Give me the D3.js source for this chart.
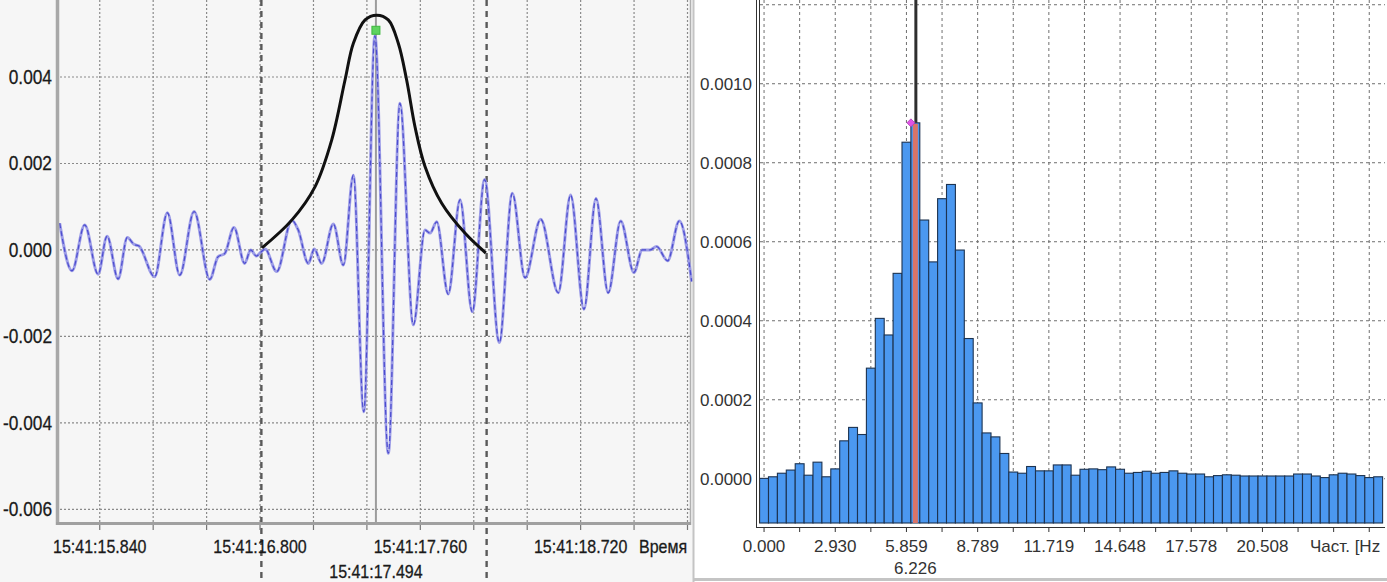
<!DOCTYPE html>
<html><head><meta charset="utf-8">
<script src="https://cdn.jsdelivr.net/npm/d3@7"></script>
<style>
html,body{margin:0;padding:0;background:#fff;}
svg{display:block;font-family:"Liberation Sans",Arial,sans-serif;}
</style></head>
<body>
<script>
// ---------- LEFT PANEL DATA (time in seconds after 15:41:00, amplitude) ----------
const signalTime = [15.600,15.674,15.750,15.830,15.884,15.950,16.005,16.045,16.075,16.169,16.245,16.319,16.405,16.499,16.548,16.589,16.644,16.708,16.744,16.778,16.808,16.830,16.900,16.990,17.029,17.089,17.125,17.169,17.239,17.299,17.359,17.421,17.488,17.568,17.638,17.718,17.788,17.818,17.858,17.927,17.998,18.071,18.145,18.233,18.311,18.387,18.481,18.586,18.660,18.740,18.812,18.885,18.960,19.039,19.089,19.135,19.175,19.241,19.311,19.385];
const signalValue = [0.00062,-0.00048,0.00058,-0.00056,0.00032,-0.00067,0.00029,0.00013,0.00009,-0.00062,0.00086,-0.00058,0.00089,-0.00068,-0.00016,-0.00008,0.00052,-0.00031,0.00000,-0.00014,-0.00004,0.00002,-0.00050,0.00069,0.00046,-0.00031,0.00002,-0.00031,0.00060,-0.00035,0.00173,-0.00374,0.00495,-0.00470,0.00339,-0.00173,0.00046,0.00039,0.00065,-0.00102,0.00116,-0.00143,0.00163,-0.00214,0.00131,-0.00064,0.00071,-0.00099,0.00127,-0.00137,0.00119,-0.00099,0.00067,-0.00052,0.00000,0.00000,0.00008,-0.00025,0.00067,-0.00073];
const envelopeTime = [16.812,16.990,17.129,17.229,17.309,17.359,17.429,17.499,17.568,17.628,17.678,17.728,17.788,17.888,18.027,18.152];
const envelopeValue = [0.00005,0.00069,0.00146,0.00254,0.00393,0.00478,0.00532,0.00543,0.00532,0.00478,0.00393,0.00285,0.00193,0.00108,0.00039,-0.00007];
const timeTickValues = [15.84,16.80,17.76,18.72];
const timeTickLabels = ["15:41:15.840","15:41:16.800","15:41:17.760","15:41:18.720"];
const ampTickValues = [0.004,0.002,0.000,-0.002,-0.004,-0.006];
const ampTickLabels = ["0.004","0.002","0.000","-0.002","-0.004","-0.006"];
const cursorTimes = [16.808,18.157];
const selectedTime = 17.494;
const selectedLabel = "15:41:17.494";
const peakMarkerValue = 0.00508;
const timeAxisTitle = "Время";

// ---------- RIGHT PANEL DATA (spectrum) ----------
const binWidth = 0.366211;
const spectrumValues = [0.000001,0.000005,0.000014,0.000022,0.000038,0.000009,0.000042,0.000005,0.000025,0.000096,
0.000130,0.000112,0.000280,0.000406,0.000364,0.000520,0.000852,0.000901,0.000655,0.000549,
0.000709,0.000745,0.000579,0.000355,0.000192,0.000116,0.000106,0.000064,0.000017,0.000014,
0.000031,0.000020,0.000020,0.000035,0.000035,0.000009,0.000024,0.000025,0.000023,0.000030,
0.000024,0.000014,0.000016,0.000019,0.000014,0.000016,0.000020,0.000014,0.000012,0.000012,
0.000005,0.000008,0.000010,0.000009,0.000007,0.000007,0.000007,0.000007,0.000007,0.000007,
0.000012,0.000012,0.000007,0.000003,0.000010,0.000014,0.000012,0.000008,0.000003,0.000005];
const freqTickValues = [0.000,2.930,5.859,8.789,11.719,14.648,17.578,20.508];
const freqTickLabels = ["0.000","2.930","5.859","8.789","11.719","14.648","17.578","20.508"];
const powerTickValues = [0.0000,0.0002,0.0004,0.0006,0.0008,0.0010];
const powerTickLabels = ["0.0000","0.0002","0.0004","0.0006","0.0008","0.0010"];
const selectedFreq = 6.226;
const selectedFreqLabel = "6.226";
const freqAxisTitle = "Част. [Hz";

// ---------- DRAW ----------
const W = 1387, H = 582;
const svg = d3.select("body").append("svg").attr("width", W).attr("height", H);

svg.append("rect").attr("x",0).attr("y",0).attr("width",693).attr("height",H).attr("fill","#f6f6f6");
svg.append("rect").attr("x",693).attr("y",0).attr("width",W-693).attr("height",H).attr("fill","#ffffff");

// ===== LEFT PANEL =====
const xL = d3.scaleLinear().domain([15.590, 19.375]).range([58, 690]);
const yL = d3.scaleLinear().domain([-0.00629, 0.00578]).range([522, 0]);
const L = svg.append("g");

const gridTimes = d3.range(-1, 12).map(i => 15.84 + i * 0.32).filter(t => xL(t) > 60 && xL(t) < 691);
L.selectAll(".vg").data(gridTimes).join("line")
  .attr("x1", d => xL(d)).attr("x2", d => xL(d)).attr("y1", 0).attr("y2", 522)
  .attr("stroke", "#8a8a8a").attr("stroke-width", 1.2).attr("stroke-dasharray", "2,2");
L.selectAll(".hg").data(ampTickValues).join("line")
  .attr("x1", 60).attr("x2", 690).attr("y1", d => yL(d)).attr("y2", d => yL(d))
  .attr("stroke", "#8a8a8a").attr("stroke-width", 1.2).attr("stroke-dasharray", "2,2");

L.append("line").attr("x1",690.5).attr("x2",690.5).attr("y1",0).attr("y2",525).attr("stroke","#b0b0b0").attr("stroke-width",1.5);

// cursors
L.append("line").attr("x1", xL(selectedTime)).attr("x2", xL(selectedTime)).attr("y1", 0).attr("y2", 522)
  .attr("stroke", "#9c9c9c").attr("stroke-width", 2);
L.selectAll(".cur").data(cursorTimes).join("line")
  .attr("x1", d => xL(d)).attr("x2", d => xL(d)).attr("y1", 0).attr("y2", 578)
  .attr("stroke", "#5a5a5a").attr("stroke-width", 2.4).attr("stroke-dasharray", "6,5");

// signal
const sig = signalTime.map((t, i) => [t, signalValue[i]]);
const lineSig = d3.line().x(d => xL(d[0])).y(d => yL(d[1])).curve(d3.curveMonotoneX);
L.append("path").attr("d", lineSig(sig)).attr("fill", "none")
  .attr("stroke", "#9393e6").attr("stroke-width", 3).attr("stroke-linejoin","round").attr("stroke-opacity",0.9);
L.append("path").attr("d", lineSig(sig)).attr("fill", "none")
  .attr("stroke", "#4c4cce").attr("stroke-width", 1.2).attr("stroke-dasharray", "5,3");

// envelope
const env = envelopeTime.map((t, i) => [t, envelopeValue[i]]);
L.append("path").attr("d", d3.line().x(d => xL(d[0])).y(d => yL(d[1])).curve(d3.curveCatmullRom)(env))
  .attr("fill", "none").attr("stroke", "#111").attr("stroke-width", 3);

// green peak marker
L.append("rect").attr("x", xL(selectedTime) - 4).attr("y", yL(peakMarkerValue) - 4).attr("width", 8).attr("height", 8)
  .attr("fill", "#5fd35f").attr("stroke", "#3cb83c").attr("stroke-width", 1);

// axes
L.append("line").attr("x1", 57.5).attr("x2", 57.5).attr("y1", 0).attr("y2", 525).attr("stroke", "#a8a8a8").attr("stroke-width", 3.5);
L.append("line").attr("x1", 56).attr("x2", 691).attr("y1", 523.5).attr("y2", 523.5).attr("stroke", "#a0a0a0").attr("stroke-width", 3);
L.selectAll(".xt").data(gridTimes).join("line")
  .attr("x1", d => xL(d)).attr("x2", d => xL(d)).attr("y1", 525).attr("y2", 530)
  .attr("stroke", "#777").attr("stroke-width", 1.2);

// labels (slightly tall text as in the reference)
L.selectAll(".yl").data(ampTickValues).join("text")
  .attr("transform", d => `translate(52,${yL(d)}) scale(1,1.12)`)
  .attr("dy", "0.36em").attr("text-anchor", "end")
  .attr("font-size", 17.3).attr("fill", "#1a1a1a").attr("stroke", "#1a1a1a").attr("stroke-width", 0.25)
  .text((d, i) => ampTickLabels[i]);
L.selectAll(".xl").data(timeTickValues).join("text")
  .attr("transform", d => `translate(${xL(d)},553) scale(1,1.15)`).attr("text-anchor", "middle")
  .attr("font-size", 16).attr("fill", "#1a1a1a").attr("stroke", "#1a1a1a").attr("stroke-width", 0.25)
  .text((d, i) => timeTickLabels[i]);
L.append("text").attr("transform", `translate(${xL(selectedTime)},578) scale(1,1.15)`).attr("text-anchor", "middle")
  .attr("font-size", 16).attr("fill", "#1a1a1a").attr("stroke", "#1a1a1a").attr("stroke-width", 0.25).text(selectedLabel);
L.append("text").attr("transform", "translate(639,553) scale(1,1.15)")
  .attr("font-size", 16).attr("fill", "#1a1a1a").attr("stroke", "#1a1a1a").attr("stroke-width", 0.25).text(timeAxisTitle);

// ===== RIGHT PANEL =====
const nBins = spectrumValues.length;
const xR = d3.scaleLinear().domain([-0.5 * binWidth, (nBins - 0.5) * binWidth]).range([759.6, 1382.6]);
const yR = d3.scaleLinear().domain([-0.000112, 0.001212]).range([523, 0]);
const R = svg.append("g");
const bw = xR(binWidth) - xR(0);

const fGrid = d3.range(0, nBins, 4).map(k => k * binWidth);
R.selectAll(".vg").data(fGrid).join("line")
  .attr("x1", d => xR(d)).attr("x2", d => xR(d)).attr("y1", 0).attr("y2", 523)
  .attr("stroke", "#6f6f6f").attr("stroke-width", 1).attr("stroke-dasharray", "3,3");
R.selectAll(".hg").data([0, 0.0002, 0.0004, 0.0006, 0.0008, 0.0010, 0.0012]).join("line")
  .attr("x1", 760).attr("x2", 1385).attr("y1", d => yR(d)).attr("y2", d => yR(d))
  .attr("stroke", "#6f6f6f").attr("stroke-width", 1).attr("stroke-dasharray", "3,3");

R.selectAll(".bar").data(spectrumValues).join("rect")
  .attr("x", (d, i) => xR(i * binWidth) - bw / 2).attr("width", bw)
  .attr("y", d => yR(d)).attr("height", d => 523 - yR(d))
  .attr("fill", "#4b98f0").attr("stroke", "#1d3350").attr("stroke-width", 1.1);

const selIdx = Math.round(selectedFreq / binWidth);
R.append("rect").attr("x", xR(selectedFreq) - 2.5).attr("width", 5)
  .attr("y", yR(spectrumValues[selIdx]) + 1).attr("height", 523 - yR(spectrumValues[selIdx]) - 1)
  .attr("fill", "#d97468");
R.append("line").attr("x1", xR(selectedFreq) + 0.5).attr("x2", xR(selectedFreq) + 0.5)
  .attr("y1", 0).attr("y2", yR(spectrumValues[selIdx]))
  .attr("stroke", "#2f2f2f").attr("stroke-width", 3);
const mx = xR(selectedFreq) - bw / 2, my = yR(spectrumValues[selIdx]);
R.append("path").attr("d", `M${mx - 4},${my} L${mx},${my - 4} L${mx + 4},${my} L${mx},${my + 4} Z`)
  .attr("fill", "#e052e6").attr("stroke", "#b03ab8").attr("stroke-width", 0.8);

R.append("line").attr("x1", 756.5).attr("x2", 756.5).attr("y1", 0).attr("y2", 527).attr("stroke", "#333").attr("stroke-width", 1);
R.append("line").attr("x1", 759.5).attr("x2", 759.5).attr("y1", 0).attr("y2", 523).attr("stroke", "#333").attr("stroke-width", 1);
R.append("line").attr("x1", 756).attr("x2", 1385).attr("y1", 527.5).attr("y2", 527.5).attr("stroke", "#333").attr("stroke-width", 1.2);
R.selectAll(".xt").data(fGrid).join("line")
  .attr("x1", d => xR(d)).attr("x2", d => xR(d)).attr("y1", 528).attr("y2", 532)
  .attr("stroke", "#333").attr("stroke-width", 1);

R.selectAll(".yl").data(powerTickValues).join("text")
  .attr("x", 752).attr("y", d => yR(d)).attr("dy", "0.36em").attr("text-anchor", "end")
  .attr("font-size", 17).attr("fill", "#333").text((d, i) => powerTickLabels[i]);
R.selectAll(".xl").data(freqTickValues).join("text")
  .attr("x", d => xR(d)).attr("y", 552).attr("text-anchor", "middle")
  .attr("font-size", 17).attr("fill", "#333").text((d, i) => freqTickLabels[i]);
R.append("text").attr("x", xR(selectedFreq)).attr("y", 574).attr("text-anchor", "middle")
  .attr("font-size", 17).attr("fill", "#333").text(selectedFreqLabel);
R.append("text").attr("x", 1310).attr("y", 552).attr("font-size", 17).attr("fill", "#333").text(freqAxisTitle);

svg.append("line").attr("x1", 693.5).attr("x2", 693.5).attr("y1", 0).attr("y2", H).attr("stroke", "#c4c4c4").attr("stroke-width", 2);
svg.append("line").attr("x1", 693).attr("x2", W).attr("y1", 579.5).attr("y2", 579.5).attr("stroke", "#c4c4c4").attr("stroke-width", 3);
</script>
</body></html>
